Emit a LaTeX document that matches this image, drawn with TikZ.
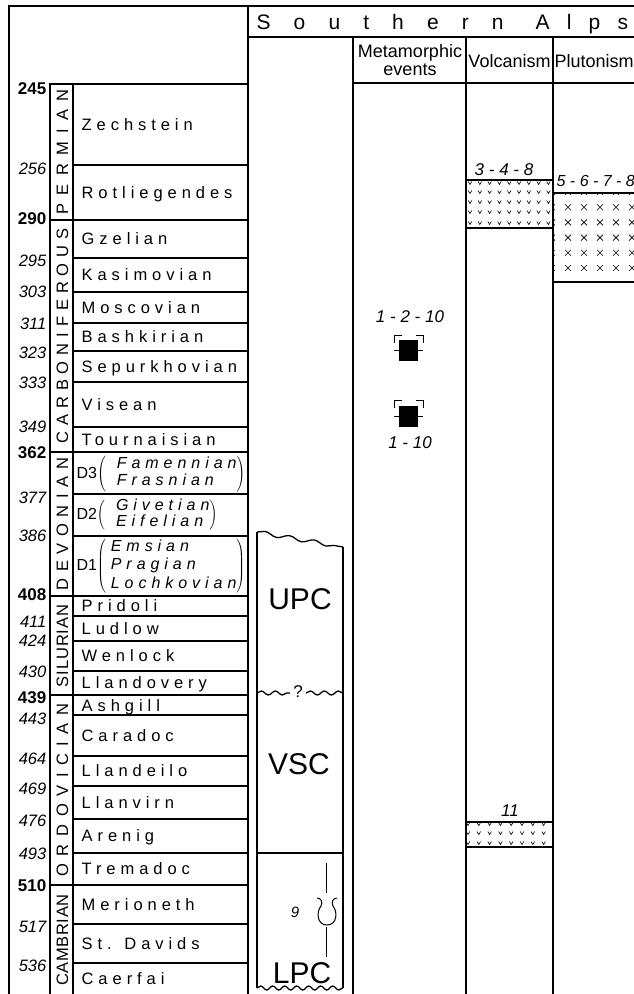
\documentclass[tikz,border=0pt]{standalone}
\usepackage{fontspec}
\setmainfont{Liberation Sans}
\usetikzlibrary{decorations.pathmorphing}

\newcommand\devgroup[3]{#1$\left(\kern#3\vcenter{\hbox{\itshape\addfontfeature{LetterSpace=31}\begin{tabular}{@{}l@{}}#2\end{tabular}}}\right)$}

\tikzset{metaev/.pic={
  \fill (-9.5,-10.5) rectangle (9.5,10.5);
  \draw (-14.5,-8) -- (-14.5,-15.5) -- (-7,-15.5);
  \draw (14.5,-8) -- (14.5,-15.5) -- (7,-15.5);
  \draw (-14.5,0) -- (14.5,0);
}}

\begin{document}
\begin{tikzpicture}[x=1pt, y=-1pt, line width=1.3pt,
  every node/.style={inner sep=0pt},
  stagename/.style={anchor=west, text height=11.8pt, text depth=0pt,
    font=\fontsize{16.5}{18}\selectfont\addfontfeature{LetterSpace=30}},
  agebold/.style={anchor=east, text height=12pt, text depth=0pt,
    font=\fontsize{17}{19}\selectfont\bfseries},
  ageit/.style={anchor=east, text height=11.5pt, text depth=0pt,
    font=\fontsize{16.5}{18}\selectfont\itshape},
  period/.style={rotate=90, text height=12pt, text depth=0pt,
    font=\fontsize{16.5}{18}\selectfont},
  unitname/.style={text height=21.5pt, text depth=0pt, font=\fontsize{30}{32}\selectfont},
  colhead/.style={font=\fontsize{18}{18}\selectfont, align=center},
  alpshead/.style={anchor=west, text height=15pt, text depth=0pt,
    font=\fontsize{21}{23}\selectfont\addfontfeature{LetterSpace=#1}},
  refnum/.style={text height=11.5pt, text depth=0pt, font=\fontsize{17}{19}\selectfont\itshape},
  wavy/.style={decorate, decoration={snake, amplitude=2pt, segment length=#1}},
  patline/.style={line width=0.6pt}]
\useasboundingbox (0,0) rectangle (633,994);

\draw (9,994) -- (9,6) -- (645,6);
\draw (248,6) -- (248,994);
\draw (248,37) -- (645,37);
\draw (353,37) -- (353,994);
\draw (466,37) -- (466,994);
\draw (553,37) -- (553,994);
\draw (353,83) -- (645,83);
\draw (50,994) -- (50,84) -- (248,84);
\draw (73,84) -- (73,994);
\foreach \y in {220,452,596,695,885}
  \draw (50,\y) -- (248,\y);
\foreach \y in {165,258,292,323,351,382,427,494,536,616,641,671,715,756,786,819,853,924,963}
  \draw (73,\y) -- (248,\y);

\node[alpshead=110] (south) at (256,22) {Southern};
\node[alpshead=82] (alps) at (535,22) {Alps};
\node[colhead] (metahead) at (410,60) {Metamorphic\\events};
\node[colhead] (volchead) at (509.5,61.5) {Volcanism};
\node[colhead, anchor=west] (pluthead) at (554,61.5) {Plutonism};

\foreach \y/\t [count=\i] in {88/245,218/290,452/362,594/408,697/439,885/510}
  \node[agebold] (bold\i) at (47,\y) {\t};
\foreach \y/\t [count=\i] in {169/256,261/295,292/303,324/311,353/323,383/333,427/349,498/377,536/386,622/411,641/424,672/430,719/443,759/464,789/469,821/476,854/493,927/517,966/536}
  \node[ageit] (age\i) at (47,\y) {\t};

\node[period] (perm) at (62,152) {\addfontfeature{LetterSpace=50}PERMIAN};
\node[period] (carb) at (62,336) {\addfontfeature{LetterSpace=36}CARBONIFEROUS};
\node[period] (devo) at (62,524) {\addfontfeature{LetterSpace=40}DEVONIAN};
\node[period] (silu) at (62,646) {\addfontfeature{LetterSpace=6}SILURIAN};
\node[period] (ordo) at (62,790) {\addfontfeature{LetterSpace=46}ORDOVICIAN};
\node[period] (camb) at (62,940) {\addfontfeature{LetterSpace=4}CAMBRIAN};

\foreach \y/\t [count=\i] in {124.5/Zechstein,192.5/Rotliegendes,239/Gzelian,275/Kasimovian,307.5/Moscovian,337/Bashkirian,366.5/Sepurkhovian,404.5/Visean,439.5/Tournaisian,606/Pridoli,629/Ludlow,656/Wenlock,683/Llandovery,706/Ashgill,735.5/Caradoc,771/Llandeilo,802.5/Llanvirn,836/Arenig,869/Tremadoc,904.5/Merioneth,943.5/St. Davids,978.5/Caerfai}
  \node[stagename] (stage\i) at (81,\y) {\t};

\node[anchor=west, font=\fontsize{16}{17}\selectfont] (dthree) at (76,474) {\devgroup{D3}{Famennian\\Frasnian}{11pt}};
\node[anchor=west, font=\fontsize{16}{16}\selectfont] (dtwo) at (76,515) {\devgroup{D2}{Givetian\\Eifelian}{11pt}};
\node[anchor=west, font=\fontsize{16}{18.5}\selectfont] (done) at (76,566) {\devgroup{D1}{Emsian\\Pragian\\Lochkovian}{5pt}};

\draw[wavy=25pt] (257,532) -- (343,547);
\draw (257,532) -- (257,988);
\draw (343,547) -- (343,988);
\draw[wavy=14pt] (257,693) -- (290,693);
\draw[wavy=14pt] (306,693) -- (343,693);
\node[font=\fontsize{17}{19}\selectfont] (query) at (298,692) {?};
\draw (257,853) -- (343,853);
\draw[wavy=12pt] (257,988) -- (343,988);
\node[unitname] (upc) at (300,599) {UPC};
\node[unitname] (vsc) at (299,764) {VSC};
\node[unitname] (lpc) at (302,973) {LPC};

\draw[line width=1pt] (326,863) -- (326,893);
\draw[line width=1pt] (326,927) -- (326,957);
\draw[line width=1pt] (317,898) .. controls (321,898) and (323,902) .. (321,906)
  .. controls (316,912) and (317,925) .. (327,925)
  .. controls (337,925) and (338,912) .. (333,906)
  .. controls (331,902) and (333,898) .. (337,898);
\node[font=\fontsize{15}{17}\selectfont\itshape] (nine) at (295,912) {9};

\node[refnum] (metaA) at (410,317) {1 - 2 - 10};
\pic[line width=1pt] at (408.5,350.5) {metaev};
\pic[line width=1pt] at (408.5,416) {metaev};
\node[refnum] (metaB) at (410,443) {1 - 10};

\node[refnum] (volcA) at (504,170) {3 - 4 - 8};
\draw (466,180) rectangle (553,228);
\foreach \y in {183,192,202,212,223}
  \foreach \i in {0,...,8}
    \draw[patline] (470+9.8*\i-1.8,\y-1.5) -- (470+9.8*\i,\y+1.5) -- (470+9.8*\i+1.8,\y-1.5);

\node[refnum] (volcB) at (510,811) {11};
\draw (466,822) rectangle (553,847);
\foreach \y in {824,833,843}
  \foreach \i in {0,...,7}
    \draw[patline] (468+10.8*\i-1.8,\y-1.5) -- (468+10.8*\i,\y+1.5) -- (468+10.8*\i+1.8,\y-1.5);

\node[refnum, anchor=west, font=\fontsize{16}{18}\selectfont\itshape] (plut) at (556,181) {5 - 6 - 7 - 8};
\begin{scope}
  \clip (553,193) rectangle (645,282);
  \foreach \j in {0,...,5}
    \foreach \i in {0,...,5} {
      \draw[patline] (552+16*\i-3,192+15.2*\j-3) -- (552+16*\i+3,192+15.2*\j+3);
      \draw[patline] (552+16*\i-3,192+15.2*\j+3) -- (552+16*\i+3,192+15.2*\j-3);
    }
\end{scope}
\draw (553,193) rectangle (645,282);
\end{tikzpicture}
\end{document}
